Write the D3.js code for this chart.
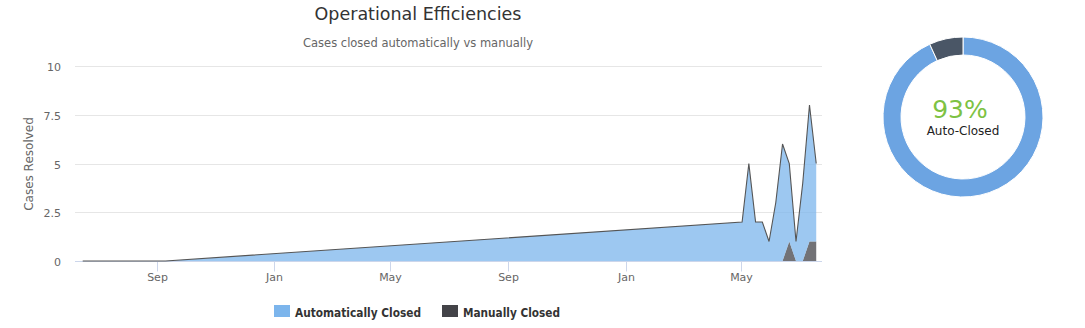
<!DOCTYPE html>
<html><head><meta charset="utf-8">
<script src="https://cdn.jsdelivr.net/npm/d3@7"></script>
<style>
body{margin:0;background:#fff}
svg{display:block}
text{font-family:"DejaVu Sans",Verdana,sans-serif}
</style>
</head><body>
<svg id="c" width="1085" height="328"></svg>
<script>
// ---- data ----
const dates = ["2017-06-16","2017-09-10","2019-05-02","2019-05-09","2019-05-16","2019-05-23","2019-05-30","2019-06-06","2019-06-13","2019-06-20","2019-06-27","2019-07-04","2019-07-11","2019-07-18"];
const autoClosed   = [0,0,2,5,2,2,1,3,6,4,1,4,7,4];
const manualClosed = [0,0,0,0,0,0,0,0,0,1,0,0,1,1];
const seriesNames = ["Automatically Closed","Manually Closed"];
const xTickDates = ["2017-09-01","2018-01-01","2018-05-01","2018-09-01","2019-01-01","2019-05-01"];
const xTickLabels = ["Sep","Jan","May","Sep","Jan","May"];
const yTicks = [0,2.5,5,7.5,10];
const yTickLabels = ["0","2.5","5","7.5","10"];
const xDomain = ["2017-06-08","2019-07-24"];

// ---- layout ----
const svg = d3.select("#c");
const P = {l:75, r:822, t:66, b:261};
const x = d3.scaleUtc().domain(xDomain.map(d=>new Date(d))).range([P.l,P.r]);
const y = d3.scaleLinear().domain([0,10]).range([P.b,P.t]);

// title
svg.append("text").attr("x",418).attr("y",20).attr("text-anchor","middle")
  .attr("font-size",17.5).attr("fill","#333333").text("Operational Efficiencies");
svg.append("text").attr("x",418).attr("y",47).attr("text-anchor","middle")
  .attr("font-size",11.5).attr("fill","#666666").text("Cases closed automatically vs manually");

// gridlines
const g = svg.append("g");
yTicks.forEach((t,i)=>{
  const yy = Math.round(y(t))+0.5;
  if (t>0) g.append("line").attr("x1",P.l).attr("x2",P.r).attr("y1",yy).attr("y2",yy)
    .attr("stroke","#e6e6e6").attr("stroke-width",1);
  g.append("text").attr("x",61).attr("y",yy+4).attr("text-anchor","end")
    .attr("font-size",11).attr("fill","#666666").text(yTickLabels[i]);
});
// y title
svg.append("text").attr("transform","translate(33,164) rotate(-90)")
  .attr("text-anchor","middle").attr("font-size",12).attr("fill","#666666").text("Cases Resolved");

// x axis
const axY = Math.round(y(0))+0.5;
g.append("line").attr("x1",P.l).attr("x2",P.r).attr("y1",axY).attr("y2",axY).attr("stroke","#ccd6eb");
xTickDates.forEach((d,i)=>{
  const xx = Math.round(x(new Date(d)))+0.5;
  g.append("line").attr("x1",xx).attr("x2",xx).attr("y1",axY).attr("y2",axY+10).attr("stroke","#ccd6eb");
  g.append("text").attr("x",xx).attr("y",281).attr("text-anchor","middle")
    .attr("font-size",11).attr("fill","#666666").text(xTickLabels[i]);
});

// stacked areas
const rows = dates.map((d,i)=>({date:new Date(d), auto:autoClosed[i], manual:manualClosed[i]}));
const stack = d3.stack().keys(["manual","auto"])(rows);
const area = d3.area().x(d=>x(d.data.date)).y0(d=>y(d[0])).y1(d=>y(d[1]));
const line = d3.line().x(d=>x(d.data.date)).y(d=>y(d[1]));
svg.append("path").datum(stack[0]).attr("d",area).attr("fill","#434348").attr("fill-opacity",0.75);
svg.append("path").datum(stack[1]).attr("d",area).attr("fill","#7cb5ec").attr("fill-opacity",0.75);
svg.append("path").datum(stack[1]).attr("d",line).attr("fill","none").attr("stroke","#555555").attr("stroke-width",1.1);

// legend
const legend = [{name:seriesNames[0],color:"#7cb5ec",x:274,w:126},{name:seriesNames[1],color:"#434348",x:442,w:97}];
legend.forEach(l=>{
  svg.append("rect").attr("x",l.x).attr("y",305).attr("width",16).attr("height",12).attr("fill",l.color);
  svg.append("text").attr("x",l.x+21).attr("y",317).attr("font-size",11.5).attr("font-weight","bold")
    .attr("textLength",l.w).attr("lengthAdjust","spacingAndGlyphs")
    .attr("fill","#333333").text(l.name);
});

// donut
const totAuto = d3.sum(autoClosed), totMan = d3.sum(manualClosed);
const pct = Math.round(100*totAuto/(totAuto+totMan));
const pie = d3.pie().sort(null)([totAuto, totMan]);
const arc = d3.arc().innerRadius(62).outerRadius(80);
const dg = svg.append("g").attr("transform","translate(963,117)");
const dcols = ["#6ca4e2","#4a5666"];
dg.selectAll("path").data(pie).join("path").attr("d",arc)
  .attr("fill",(d,i)=>dcols[i]).attr("stroke","#fff").attr("stroke-width",1);
dg.append("text").attr("x",-3).attr("y",1).attr("text-anchor","middle")
  .attr("font-size",25).attr("fill","#7dc243").text(pct+"%");
dg.append("text").attr("x",0).attr("y",18).attr("text-anchor","middle")
  .attr("font-size",12).attr("fill","#222").text("Auto-Closed");
</script>
</body></html>
